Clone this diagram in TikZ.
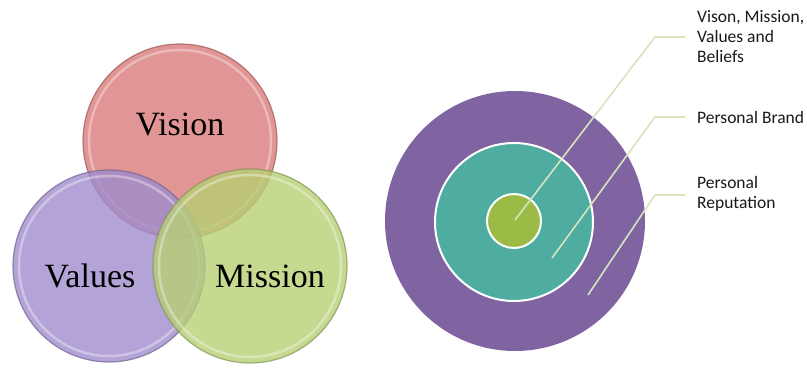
\documentclass[tikz,border=0pt]{standalone}
\usepackage{fontspec}
\setmainfont{Liberation Serif}
\newfontfamily\calibri{Carlito}
\usetikzlibrary{calc}
\definecolor{visionred}{RGB}{218,122,122}
\definecolor{valuespurple}{RGB}{160,140,204}
\definecolor{missiongreen}{RGB}{182,208,116}
\definecolor{outerpurple}{RGB}{128,100,162}
\definecolor{midteal}{RGB}{78,172,160}
\definecolor{coregreen}{RGB}{155,187,70}
\definecolor{leadergreen}{RGB}{215,228,189}
\tikzset{
  venn/.style={fill opacity=0.8, draw opacity=0.7, line width=1.2pt},
  bevel/.style={draw=white, draw opacity=0.35, line width=2.5pt},
  vennlabel/.style={font=\fontsize{34}{36}\selectfont, text=black},
  ring/.style={draw=white, line width=2pt},
  leader/.style={draw=leadergreen, line width=1.6pt},
  ringlabel/.style={font=\calibri\fontsize{17.5}{20}\selectfont, text=black!90, align=left, anchor=west, inner sep=0pt}
}
\begin{document}
\begin{tikzpicture}[x=1pt, y=-1pt]
		%%%%% START %%%%%
		\useasboundingbox (0, 0) rectangle (807, 370);
		
		% venn of vision, values, mission
		\draw[venn, fill=visionred, draw=visionred!70!black] (180, 141) circle (97);
		\draw[bevel] (180, 141) circle (91);
		\draw[venn, fill=valuespurple, draw=valuespurple!70!black] (109, 266) circle (96);
		\draw[bevel] (109, 266) circle (90);
		\draw[venn, fill=missiongreen, draw=missiongreen!70!black] (250, 266) circle (97);
		\draw[bevel] (250, 266) circle (91);
		
		\node[vennlabel] (vision) at (180, 124) {Vision};
		\node[vennlabel] (values) at (90, 276) {Values};
		\node[vennlabel] (mission) at (270, 276) {Mission};
		
		% rings
		\fill[outerpurple] (515, 221) circle (130);
		\draw[ring, fill=midteal] (514, 222) circle (79);
		\draw[ring, fill=coregreen] (514, 221) circle (27);
		
		\coordinate (core) at (515, 220);
		\coordinate (brand) at (552, 258);
		\coordinate (reput) at (588, 295);
		\coordinate (bend1) at (655, 37);
		\coordinate (bend2) at (655, 117);
		\coordinate (bend3) at (655, 195);
		
		\node[ringlabel] (beliefs) at (697, 37) {Vison, Mission,\\Values and\\Beliefs};
		\node[ringlabel] (pbrand) at (697, 117) {Personal Brand};
		\node[ringlabel] (preput) at (697, 194) {Personal\\Reputation};
		
		\draw[leader] (core) -- (bend1) -- ([xshift=-12pt]beliefs.west);
		\draw[leader] (brand) -- (bend2) -- ([xshift=-12pt]pbrand.west);
		\draw[leader] (reput) -- (bend3) -- ([xshift=-12pt]bend3 -| preput.west);
		%%%%% END %%%%%
	\end{tikzpicture}
\end{document}
